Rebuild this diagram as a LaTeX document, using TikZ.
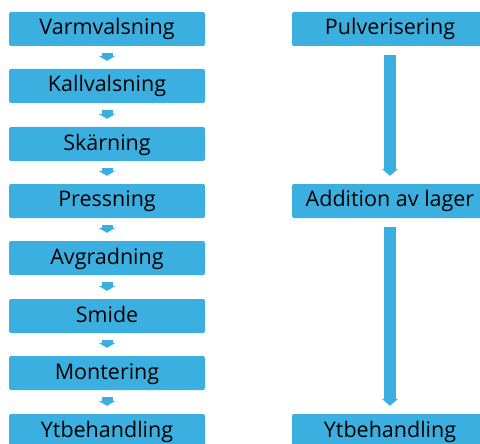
\documentclass[tikz,border=0pt]{standalone}
\usepackage{fontspec}
\setmainfont{Open Sans}
\usetikzlibrary{arrows.meta}
\definecolor{stegblue}{HTML}{3BB0E0}
\tikzset{
  stegbox/.style={fill=stegblue, rounded corners=2pt, minimum width=196pt, minimum height=34pt, inner sep=0pt, text height=16pt, text depth=4pt, font=\fontsize{21.5}{24}\selectfont},
  litenpil/.style={draw=stegblue, line width=11pt, -{Triangle[width=17pt,length=5pt]}, shorten <=7pt, shorten >=8pt},
  storpil/.style={draw=stegblue, line width=12pt, -{Triangle[width=16pt,length=7pt]}, shorten <=9pt, shorten >=8pt}
}

\begin{document}
\begin{tikzpicture}[x=1pt,y=-1pt]
            \useasboundingbox (0,0) rectangle (480,444);
            \clip (0,0) rectangle (480,444);
            % Bearbetning av plat
            \node[stegbox] (varm) at (107,29) {Varmvalsning};
            \node[stegbox] (kall) at (107,86) {Kallvalsning};
            \node[stegbox] (skar) at (107,144) {Skärning};
            \node[stegbox] (press) at (107,201) {Pressning};
            \node[stegbox] (avgrad) at (107,258) {Avgradning};
            \node[stegbox] (smide) at (107,316) {Smide};
            \node[stegbox] (mont) at (107,373) {Montering};
            \node[stegbox] (ytv) at (107,431) {Ytbehandling};

            \draw[litenpil] (varm) -- (kall);
            \draw[litenpil] (kall) -- (skar);
            \draw[litenpil] (skar) -- (press);
            \draw[litenpil] (press) -- (avgrad);
            \draw[litenpil] (avgrad) -- (smide);
            \draw[litenpil] (smide) -- (mont);
            \draw[litenpil] (mont) -- (ytv);

            % Additiv tillverkning
            \node[stegbox] (pulver) at (390,29) {Pulverisering};
            \node[stegbox] (addition) at (390,201) {Addition av lager};
            \node[stegbox] (yth) at (390,431) {Ytbehandling};

            \draw[storpil] (pulver) -- (addition);
            \draw[storpil] (addition) -- (yth);
        \end{tikzpicture}
\end{document}
